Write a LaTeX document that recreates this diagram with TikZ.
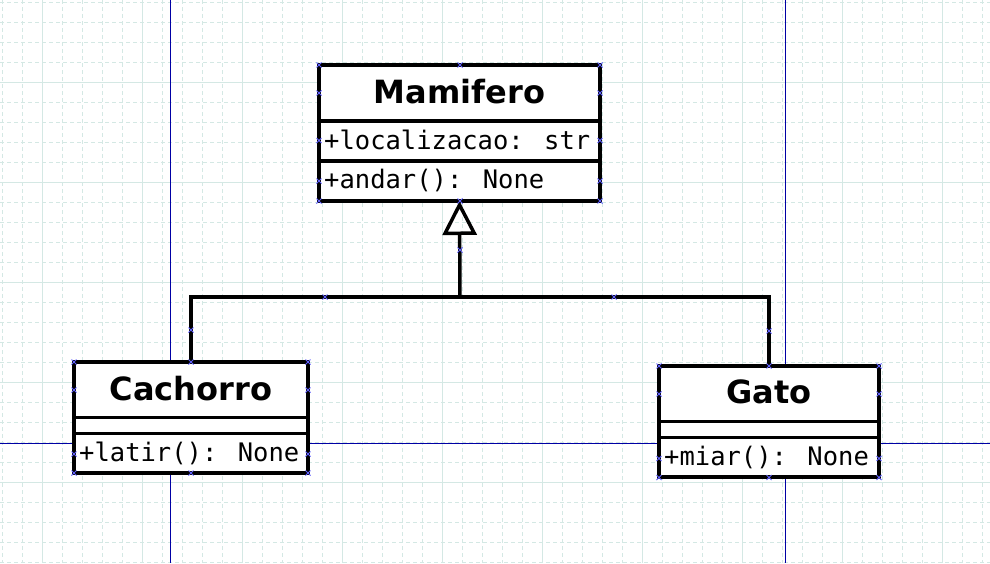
\documentclass[tikz,border=0pt]{standalone}
\usepackage{fontspec}
\usetikzlibrary{arrows.meta}
\newfontfamily\umlfont{DejaVu Sans}
\newfontfamily\umlmono{DejaVu Sans Mono}
\definecolor{gridcol}{RGB}{212,232,228}
\definecolor{guide}{RGB}{0,0,165}
\definecolor{cpoint}{RGB}{95,95,250}

\begin{document}
\begin{tikzpicture}[x=1pt,y=-1pt]
        \tikzset{classbox/.style={draw, line width=3.5pt, fill=white, inner sep=0pt,
                outer sep=0pt, anchor=north west},
        classname/.style={anchor=base, inner sep=0pt,
                font=\umlfont\bfseries\fontsize{32}{32}\selectfont},
        member/.style={anchor=base west, inner sep=0pt,
                font=\umlmono\fontsize{25.5}{25.5}\selectfont},
        link/.style={line width=3.5pt},
        inherit/.style={line width=3.5pt, -{Triangle[open, length=34pt, width=34pt]}},
        gridline/.style={gridcol, line width=1pt},
        guideline/.style={guide, line width=1pt},
        cpt/.style={cpoint, line width=0.9pt}}
        \useasboundingbox (0,0) rectangle (990,563);
        % grid
        \foreach \i in {0,...,49}
                \draw[gridline, dash pattern=on 4pt off 3pt] (2.7+20*\i,0) -- (2.7+20*\i,563);
        \foreach \i in {0,...,28}
                \draw[gridline, dash pattern=on 4pt off 3pt] (0,2.7+20*\i) -- (990,2.7+20*\i);
        \foreach \i in {0,...,9}
                \draw[gridline] (42.7+100*\i,0) -- (42.7+100*\i,563);
        \foreach \i in {0,...,4}
                \draw[gridline] (0,82.7+100*\i) -- (990,82.7+100*\i);
        \draw[guideline] (170,0) -- (170,563);
        \draw[guideline] (785,0) -- (785,563);
        \draw[guideline] (0,443) -- (990,443);
        % classes
        \node[classbox, minimum width=281pt, minimum height=136pt] (mamifero) at (319,65) {};
        \draw[link] (319,121) -- (600,121);
        \draw[link] (319,161) -- (600,161);
        \node[classname] (mamname) at (459.5,103) {Mamifero};
        \node[member] (mamattr) at (324,149) {+localizacao: str};
        \node[member] (mammeth) at (324,188.5) {+andar(): None};

        \node[classbox, minimum width=234pt, minimum height=111pt] (cachorro) at (74,362) {};
        \draw[link] (74,417.5) -- (308,417.5);
        \draw[link] (74,433.5) -- (308,433.5);
        \node[classname] (cachname) at (191,400) {Cachorro};
        \node[member] (cachmeth) at (79,461.5) {+latir(): None};

        \node[classbox, minimum width=220pt, minimum height=111pt] (gato) at (659,366) {};
        \draw[link] (659,421.5) -- (879,421.5);
        \draw[link] (659,437.5) -- (879,437.5);
        \node[classname] (gatoname) at (769,403.5) {Gato};
        \node[member] (gatometh) at (664,465.5) {+miar(): None};
        % generalisation
        \coordinate (joint) at (460,297);
        \draw[link] (cachorro.north) |- (joint);
        \draw[link] (gato.north) |- (joint);
        \draw[inherit] (joint) -- (mamifero.south);
        % connection points
        \foreach \px/\py in {319/65, 460/65, 600/65, 319/93, 600/93, 319/140.5, 600/140.5,
                319/181, 600/181, 319/201, 460/201, 600/201, 460/250, 325/297, 614/297,
                191/330, 769/331, 74/362, 191/362, 308/362, 74/390, 308/390, 74/454,
                308/454, 74/473, 191/473, 308/473, 659/366, 769/366, 879/366, 659/394,
                879/394, 659/458.5, 879/458.5, 659/477.5, 769/477.5, 879/477.5}
                \draw[cpt] (\px-2.5,\py-2.5) -- (\px+2.5,\py+2.5)
                        (\px-2.5,\py+2.5) -- (\px+2.5,\py-2.5);
\end{tikzpicture}
\end{document}
